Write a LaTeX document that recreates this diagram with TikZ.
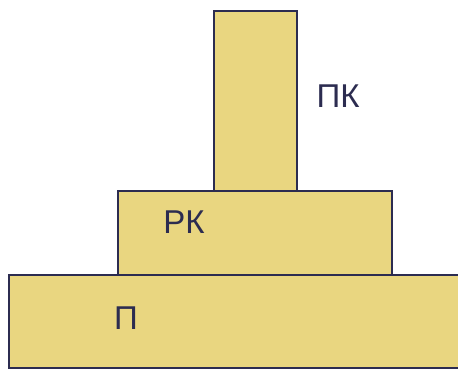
\documentclass[tikz,border=0pt]{standalone}
\usepackage{fontspec}
\setmainfont{Liberation Sans}
\definecolor{blockfill}{RGB}{233,214,128}
\definecolor{blockline}{RGB}{44,44,80}
\begin{document}
\begin{tikzpicture}[x=1pt, y=-1pt,
		block/.style={rectangle, draw=blockline, fill=blockfill, line width=1.8pt, inner sep=0pt, anchor=north west},
		lbl/.style={text=blockline, font=\fontsize{33}{38}\selectfont, inner sep=0pt}
		]
		\useasboundingbox (0,0) rectangle (458,368);
		\clip (0,0) rectangle (458,368);
		% blocks from the bottom up
		\node[block, minimum width=462pt, minimum height=93pt] (base) at (8,274) {};
		\node[block, minimum width=274pt, minimum height=84pt] (mid) at (117,190) {};
		\node[block, minimum width=83pt, minimum height=180pt] (top) at (213,10) {};
		
		\node[lbl] (pk) at (338,96) {ПК};
		\node[lbl] (rk) at (184,222) {РК};
		\node[lbl] (p) at (126,318) {П};
	\end{tikzpicture}
\end{document}
